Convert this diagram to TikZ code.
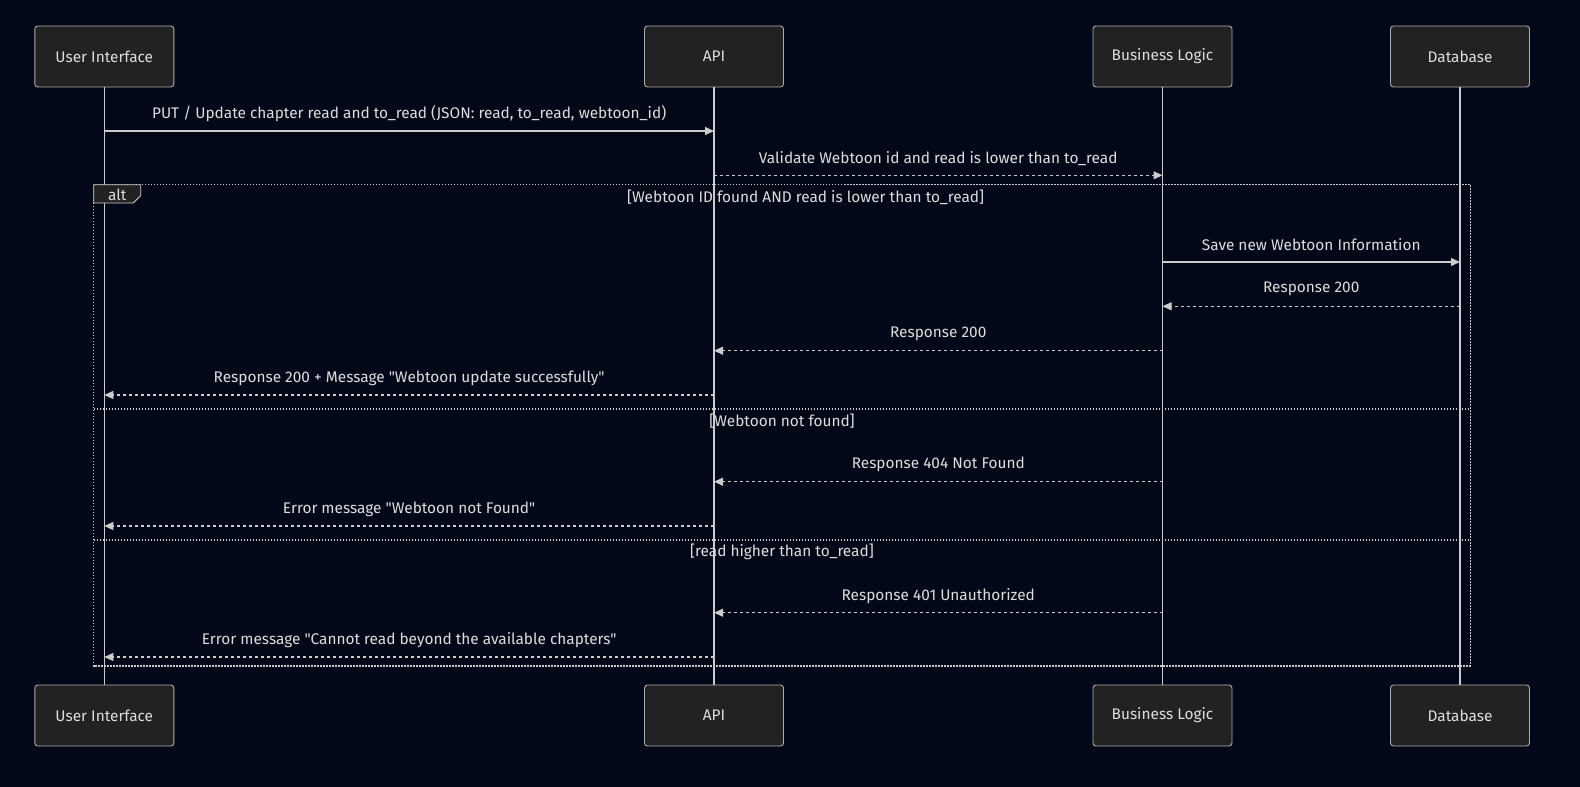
\documentclass[tikz,border=0pt]{standalone}
\usepackage{fontspec}
\setmainfont{Fira Sans}[Ligatures=TeXOff]
\usetikzlibrary{arrows.meta}

\definecolor{bg}{HTML}{020817}
\definecolor{boxfill}{HTML}{222222}
\definecolor{linegray}{HTML}{CCCCCC}
\definecolor{txt}{HTML}{DDDDDD}

\tikzstyle{actor}=[draw=linegray!85!black,fill=boxfill,rounded corners=3pt,minimum width=139pt,minimum height=61pt,text=txt,font=\fontsize{15.4}{17}\selectfont,line width=0.9pt]
\tikzstyle{lifeline}=[draw,line width=1.1pt,linegray]
\tikzstyle{msg}=[draw,line width=1.1pt,linegray,-{Triangle[length=9pt,width=8pt]}]
\tikzstyle{reply}=[msg,dash pattern=on 3pt off 3pt]
\tikzstyle{frame}=[draw,line width=1.4pt,linegray,dash pattern=on 1.5pt off 1.5pt]
\tikzstyle{msgtext}=[text=txt,font=\fontsize{15.4}{17}\selectfont,inner sep=0pt]

\begin{document}
\begin{tikzpicture}[x=1pt,y=-1pt]
    \useasboundingbox[fill=bg] (0,0) rectangle (1580,787);
    \foreach \x/\name/\txt in {104.3/ui/User Interface, 714/api/API,
                               1162.5/bl/Business Logic, 1460/db/Database}
    {
        \node[actor] (\name top) at (\x,56.5) {\txt};
        \node[actor] (\name bot) at (\x,715.5) {\txt};
        \path[lifeline] (\name top) -- (\name bot);
    }

    % alt frame and its sections
    \draw[frame] (93.7,184.7) rectangle (1470.3,666);
    \draw[frame] (93.7,409.1) -- (1470.3,409.1);
    \draw[frame] (93.7,540.1) -- (1470.3,540.1);
    \draw[linegray,line width=0.9pt,fill=boxfill] (93.7,184.7) -- (140.7,184.7) -- (140.7,195.5) -- (133.3,203) -- (93.7,203) -- cycle;
    \node[msgtext] (alt) at (117.3,194.5) {alt};
    \node[msgtext] (cond1) at (805.6,197.5) {[Webtoon ID found AND read is lower than to\_read]};
    \node[msgtext] (cond2) at (782,421.2) {[Webtoon not found]};
    \node[msgtext] (cond3) at (782,552.2) {[read higher than to\_read]};

    \foreach \y/\src/\dst/\sty/\txt in {
        {131/ui/api/msg/{PUT / Update chapter read and to\_read (JSON: read, to\_read, webtoon\_id)}},
        {175.3/api/bl/reply/{Validate Webtoon id and read is lower than to\_read}},
        {262/bl/db/msg/{Save new Webtoon Information}},
        {306.3/db/bl/reply/{Response 200}},
        {350.7/bl/api/reply/{Response 200}},
        {395/api/ui/reply/{Response 200 + Message "Webtoon update successfully"}},
        {481.7/bl/api/reply/{Response 404 Not Found}},
        {526/api/ui/reply/{Error message "Webtoon not Found"}},
        {612.7/bl/api/reply/{Response 401 Unauthorized}},
        {657/api/ui/reply/{Error message "Cannot read beyond the available chapters"}}}
        \path[\sty] (\src top |- 0,\y) -- (\dst top |- 0,\y)
            node[msgtext,midway,yshift=17pt] {\txt};
\end{tikzpicture}
\end{document}
